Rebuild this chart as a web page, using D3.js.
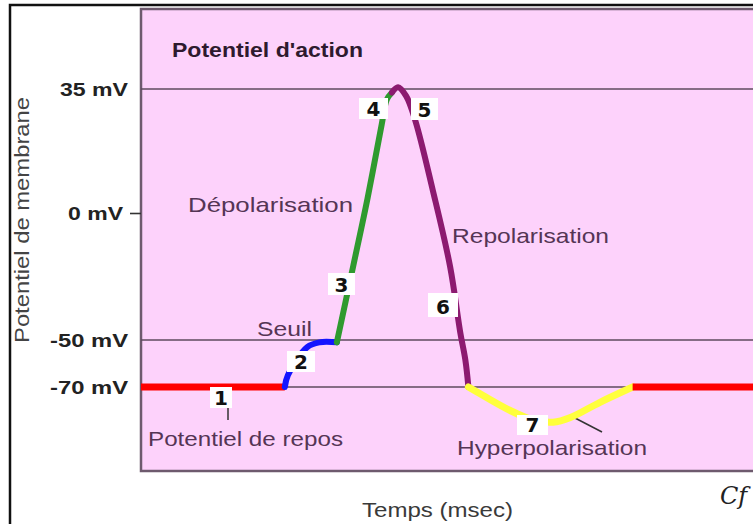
<!DOCTYPE html>
<html><head><meta charset="utf-8">
<script src="https://cdn.jsdelivr.net/npm/d3@7/dist/d3.min.js"></script>
<style>html,body{margin:0;padding:0;background:#fff;}svg{display:block;}</style>
</head><body>
<svg id="chart" width="753" height="524"></svg>
<script>
// ---- data ----
const yTicks = [35, 0, -50, -70];
const yTickLabels = ["35 mV", "0 mV", "-50 mV", "-70 mV"];
const gridValues = [35, -50, -70];
const phaseNames = ["repos", "seuil", "depolarisation", "repolarisation", "hyperpolarisation", "repos2"];
// time (msec, arbitrary scale) and membrane potential (mV) for each phase
const seg1 = [[0, -70], [1.41, -70]];
const seg2 = [[1.41, -70], [1.44, -65], [1.63, -53], [1.75, -51], [1.92, -51]];
const seg3 = [[1.92, -51], [2.08, -21], [2.22, 4], [2.36, 25], [2.41, 32], [2.46, 34]];
const seg4 = [[2.46, 34], [2.52, 35.5], [2.60, 33], [2.69, 26], [2.86, 6.5], [3.03, -21], [3.13, -47], [3.18, -58.5], [3.21, -70]];
const seg5 = [[3.21, -70], [3.35, -73.5], [3.62, -80], [3.84, -84], [4.04, -85], [4.21, -83], [4.50, -76.5], [4.82, -70]];
const seg6 = [[4.82, -70], [6, -70]];
const segments = [seg1, seg2, seg3, seg4, seg5, seg6];
const segColors = ["#ff0000", "#1414ff", "#2f9a2f", "#8c1a70", "#ffff3c", "#ff0000"];
const segWidths = [7, 6, 6, 6, 7, 7];
const phaseNumbers = ["1", "2", "3", "4", "5", "6", "7"];

// ---- layout ----
const svg = d3.select("#chart");
const plot = {left: 141, right: 760, top: 9, bottom: 471};
const x = d3.scaleLinear().domain([0, 6]).range([141, 753]);
const y = d3.scaleLinear().domain([-70, -50, 0, 35]).range([387, 340, 213, 89]);

// outer frame
svg.append("rect").attr("x", 10).attr("y", 5).attr("width", 760).attr("height", 540)
  .attr("fill", "#fff").attr("stroke", "#111").attr("stroke-width", 2.5);
// plot background
svg.append("rect").attr("x", plot.left).attr("y", plot.top)
  .attr("width", plot.right - plot.left).attr("height", plot.bottom - plot.top)
  .attr("fill", "#fdd2fb").attr("stroke", "#6e5a6e").attr("stroke-width", 2.5);

// grid lines
svg.append("g").selectAll("line").data(gridValues).join("line")
  .attr("x1", plot.left).attr("x2", plot.right)
  .attr("y1", d => y(d)).attr("y2", d => y(d))
  .attr("stroke", "#5e4a5e").attr("stroke-width", 1.6);

// y axis
const yAxis = d3.axisLeft(y).tickValues(yTicks).tickSize(11).tickPadding(2)
  .tickFormat((d, i) => yTickLabels[i]);
const gy = svg.append("g").attr("transform", `translate(${plot.left},0)`).call(yAxis);
gy.select(".domain").remove();
gy.selectAll(".tick line").attr("stroke", "#333").attr("stroke-width", 1.6)
  .attr("opacity", d => d === 0 ? 1 : 0);
const tickLens = {"35": 68, "0": 55, "-50": 78, "-70": 78};
gy.selectAll(".tick text")
  .attr("font-family", "Liberation Sans, Arial, sans-serif").attr("font-weight", "bold")
  .attr("font-size", 19).attr("fill", "#222")
  .attr("x", d => d === 0 ? -18 : -13)
  .attr("dy", "0.34em")
  .attr("textLength", d => tickLens[String(d)]).attr("lengthAdjust", "spacingAndGlyphs");

// text annotations
const texts = [
  {t: "Potentiel d'action", x: 172, y: 57, len: 191, size: 20, bold: true, fill: "#2e1a2e"},
  {t: "Dépolarisation", x: 188, y: 212, len: 165, size: 21, fill: "#553555"},
  {t: "Repolarisation", x: 452, y: 243, len: 157, size: 21, fill: "#553555"},
  {t: "Seuil", x: 257, y: 336, len: 55, size: 21, fill: "#553555"},
  {t: "Potentiel de repos", x: 148, y: 446, len: 195, size: 21, fill: "#553555"},
  {t: "Hyperpolarisation", x: 457, y: 455, len: 190, size: 21, fill: "#553555"},
  {t: "Temps (msec)", x: 362, y: 517, len: 151, size: 21, fill: "#3a3a3a"}
];
svg.append("g").selectAll("text").data(texts).join("text")
  .attr("x", d => d.x).attr("y", d => d.y)
  .attr("font-family", "Liberation Sans, Arial, sans-serif")
  .attr("font-weight", d => d.bold ? "bold" : "normal")
  .attr("font-size", d => d.size).attr("fill", d => d.fill)
  .attr("textLength", d => d.len).attr("lengthAdjust", "spacingAndGlyphs")
  .text(d => d.t);

// y title
svg.append("text").attr("transform", "translate(29,220) rotate(-90)")
  .attr("text-anchor", "middle")
  .attr("font-family", "Liberation Sans, Arial, sans-serif").attr("font-size", 20)
  .attr("fill", "#444").attr("textLength", 246).attr("lengthAdjust", "spacingAndGlyphs")
  .text("Potentiel de membrane");

// signature
svg.append("text").attr("x", 720).attr("y", 504)
  .attr("font-family", "DejaVu Serif, serif").attr("font-style", "italic")
  .attr("font-size", 24).attr("fill", "#222").text("Cf");

// leader lines
const leaders = [[228, 403, 228, 420], [575, 418, 602, 432]];
svg.append("g").selectAll("line").data(leaders).join("line")
  .attr("x1", d => d[0]).attr("y1", d => d[1]).attr("x2", d => d[2]).attr("y2", d => d[3])
  .attr("stroke", "#333").attr("stroke-width", 1.5);

// curve
const line = d3.line().x(d => x(d[0])).y(d => y(d[1])).curve(d3.curveCatmullRom.alpha(0.5));
svg.append("g").selectAll("path").data(segments).join("path")
  .attr("d", d => line(d)).attr("fill", "none")
  .attr("stroke", (d, i) => segColors[i]).attr("stroke-width", (d, i) => segWidths[i])
  .attr("stroke-linecap", (d, i) => (i === 0 || i === 5) ? "butt" : "round")
  .attr("stroke-linejoin", "round");

// phase number boxes
const boxes = [
  {x: 210, y: 387, w: 22, h: 21},
  {x: 287, y: 351, w: 28, h: 21},
  {x: 328, y: 273, w: 27, h: 22},
  {x: 359, y: 98, w: 29, h: 21},
  {x: 411, y: 98, w: 27, h: 22},
  {x: 428, y: 293, w: 30, h: 24},
  {x: 517, y: 415, w: 31, h: 20}
];
const gb = svg.append("g").selectAll("g").data(boxes).join("g");
gb.append("rect").attr("x", d => d.x).attr("y", d => d.y).attr("width", d => d.w).attr("height", d => d.h)
  .attr("fill", "#fff");
gb.append("text").attr("x", d => d.x + d.w / 2).attr("y", d => d.y + d.h - 3)
  .attr("text-anchor", "middle").attr("font-family", "DejaVu Sans, sans-serif")
  .attr("font-weight", "bold").attr("font-size", 20).attr("fill", "#111")
  .text((d, i) => phaseNumbers[i]);
</script>
</body></html>
